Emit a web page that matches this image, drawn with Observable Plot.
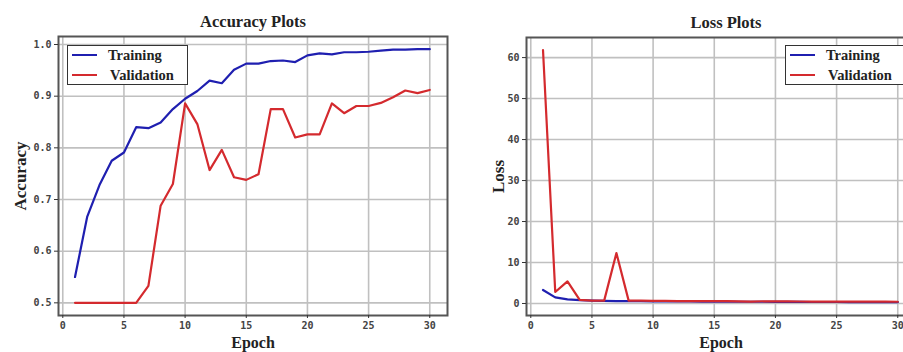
<!DOCTYPE html>
<html>
<head>
<meta charset="utf-8">
<script src="https://cdn.jsdelivr.net/npm/d3@7"></script>
<script src="https://cdn.jsdelivr.net/npm/@observablehq/plot@0.6"></script>
<style>
  html, body { margin: 0; padding: 0; background: #fff; overflow: hidden; }
  #wrap { position: relative; width: 903px; height: 352px; }
  .panel { position: absolute; top: 0; height: 352px; overflow: hidden; }
  .panel svg { max-width: none !important; position: absolute; left: 0; top: 0; }
  .legend { position: absolute; box-sizing: border-box; width: 121px; height: 40px;
            border: 1.5px solid #333; background: #fff;
            font-family: "Liberation Serif", "Times New Roman", serif; font-weight: bold; font-size: 14.5px; color: #222; }
  .legend .row { position: absolute; left: 0; height: 20px; display: flex; align-items: center; }
  .legend .sw { display: inline-block; width: 25px; height: 2.5px; margin-left: 4px; }
  .legend .lab { margin-left: 11px; }
</style>
</head>
<body>
<div id="wrap">
  <div class="panel" id="left" style="left:0;width:460px"></div>
  <div class="panel" id="right" style="left:460px;width:443px"></div>
</div>
<script>
const epochs = Array.from({length: 30}, (_, i) => i + 1);
const trainAcc = [0.550, 0.667, 0.728, 0.775, 0.791, 0.840, 0.838, 0.849, 0.875, 0.895,
                  0.910, 0.930, 0.925, 0.951, 0.963, 0.963, 0.968, 0.969, 0.966, 0.979,
                  0.983, 0.981, 0.985, 0.985, 0.986, 0.988, 0.990, 0.990, 0.991, 0.991];
const valAcc = [0.500, 0.500, 0.500, 0.500, 0.500, 0.500, 0.533, 0.688, 0.730, 0.886,
                0.846, 0.757, 0.796, 0.743, 0.738, 0.749, 0.875, 0.875, 0.820, 0.826,
                0.826, 0.886, 0.867, 0.881, 0.881, 0.887, 0.898, 0.911, 0.906, 0.912];
const trainLoss = [3.3, 1.5, 1.0, 0.8, 0.7, 0.65, 0.6, 0.6, 0.55, 0.52,
                   0.5, 0.5, 0.48, 0.47, 0.46, 0.45, 0.43, 0.42, 0.42, 0.4,
                   0.4, 0.38, 0.37, 0.36, 0.36, 0.35, 0.34, 0.33, 0.32, 0.32];
const valLoss = [61.8, 2.8, 5.4, 0.9, 0.7, 0.7, 12.3, 0.7, 0.7, 0.65,
                 0.62, 0.6, 0.6, 0.6, 0.6, 0.6, 0.5, 0.45, 0.55, 0.5,
                 0.5, 0.48, 0.47, 0.47, 0.46, 0.45, 0.45, 0.44, 0.44, 0.43];
const epochTicks = [0, 5, 10, 15, 20, 25, 30];
const accTicks = [0.5, 0.6, 0.7, 0.8, 0.9, 1.0];
const lossTicks = [0, 10, 20, 30, 40, 50, 60];
const seriesNames = ["Training", "Validation"];
const seriesColors = ["#1f1fb0", "#d42a2e"];

function long(a, b) {
  return epochs.flatMap((e, i) => [
    {epoch: e, value: a[i], series: seriesNames[0]},
    {epoch: e, value: b[i], series: seriesNames[1]}
  ]);
}

const serif = "'Liberation Serif', 'Times New Roman', serif";
const mono = "'DejaVu Sans Mono', monospace";

function makeChart({data, yDomain, yTicks, yFormat, title, ylabel, marginLeft, marginRight, marginTop, marginBottom, ylabelDx, titleDx}) {
  return Plot.plot({
    width: 460, height: 352,
    marginLeft, marginRight, marginTop, marginBottom,
    style: {background: "transparent", color: "#333", maxWidth: "none"},
    x: {domain: [-0.35, 31.45]},
    y: {domain: yDomain},
    color: {domain: seriesNames, range: seriesColors},
    marks: [
      Plot.gridX(epochTicks, {stroke: "#c0c0c0", strokeOpacity: 1, strokeWidth: 1.6}),
      Plot.gridY(yTicks, {stroke: "#c0c0c0", strokeOpacity: 1, strokeWidth: 1.6}),
      Plot.line(data, {x: "epoch", y: "value", z: "series", stroke: "series", strokeWidth: 2.2}),
      Plot.frame({stroke: "#555", strokeWidth: 2}),
      Plot.axisX({ticks: epochTicks, tickSize: 3, tickPadding: 3, fontSize: 10, fontFamily: mono, fontWeight: "bold", fill: "#444", label: null}),
      Plot.axisY({ticks: yTicks, tickSize: 4, tickPadding: 3, fontSize: 10, fontFamily: mono, fontWeight: "bold", fill: "#444", tickFormat: yFormat, label: null}),
      Plot.text([title], {frameAnchor: "top", dy: -15, dx: titleDx, lineAnchor: "middle", fontSize: 16.5, fontWeight: "bold", fontFamily: serif, fill: "#222"}),
      Plot.text(["Epoch"], {frameAnchor: "bottom", dy: 27, lineAnchor: "middle", fontSize: 16, fontWeight: "bold", fontFamily: serif, fill: "#222"}),
      Plot.text([ylabel], {frameAnchor: "left", dx: ylabelDx, rotate: -90, textAnchor: "middle", lineAnchor: "middle", fontSize: 17, fontWeight: "bold", fontFamily: serif, fill: "#222"})
    ]
  });
}

function legend(left, top) {
  const d = document.createElement("div");
  d.className = "legend";
  d.style.left = left + "px";
  d.style.top = top + "px";
  seriesNames.forEach((n, i) => {
    const r = document.createElement("div");
    r.className = "row";
    r.style.top = (i * 20 - 1) + "px";
    const s = document.createElement("span");
    s.className = "sw";
    s.style.background = seriesColors[i];
    const t = document.createElement("span");
    t.className = "lab";
    t.textContent = n;
    if (i === 1) t.style.marginLeft = "13px";
    r.appendChild(s); r.appendChild(t);
    d.appendChild(r);
  });
  return d;
}

const leftEl = document.getElementById("left");
leftEl.appendChild(makeChart({
  data: long(trainAcc, valAcc),
  yDomain: [0.4755, 1.0155], yTicks: accTicks, yFormat: d3.format(".1f"),
  title: "Accuracy Plots", ylabel: "Accuracy",
  marginLeft: 58, marginRight: 13, marginTop: 36, marginBottom: 37, ylabelDx: -38, titleDx: 0
}));
leftEl.appendChild(legend(67, 45));

const rightEl = document.getElementById("right");
rightEl.appendChild(makeChart({
  data: long(trainLoss, valLoss),
  yDomain: [-2.93, 64.9], yTicks: lossTicks, yFormat: d3.format("d"),
  title: "Loss Plots", ylabel: "Loss",
  marginLeft: 66, marginRight: 5, marginTop: 37, marginBottom: 37, ylabelDx: -28, titleDx: 5
}));
rightEl.appendChild(legend(325, 45));
</script>
</body>
</html>
